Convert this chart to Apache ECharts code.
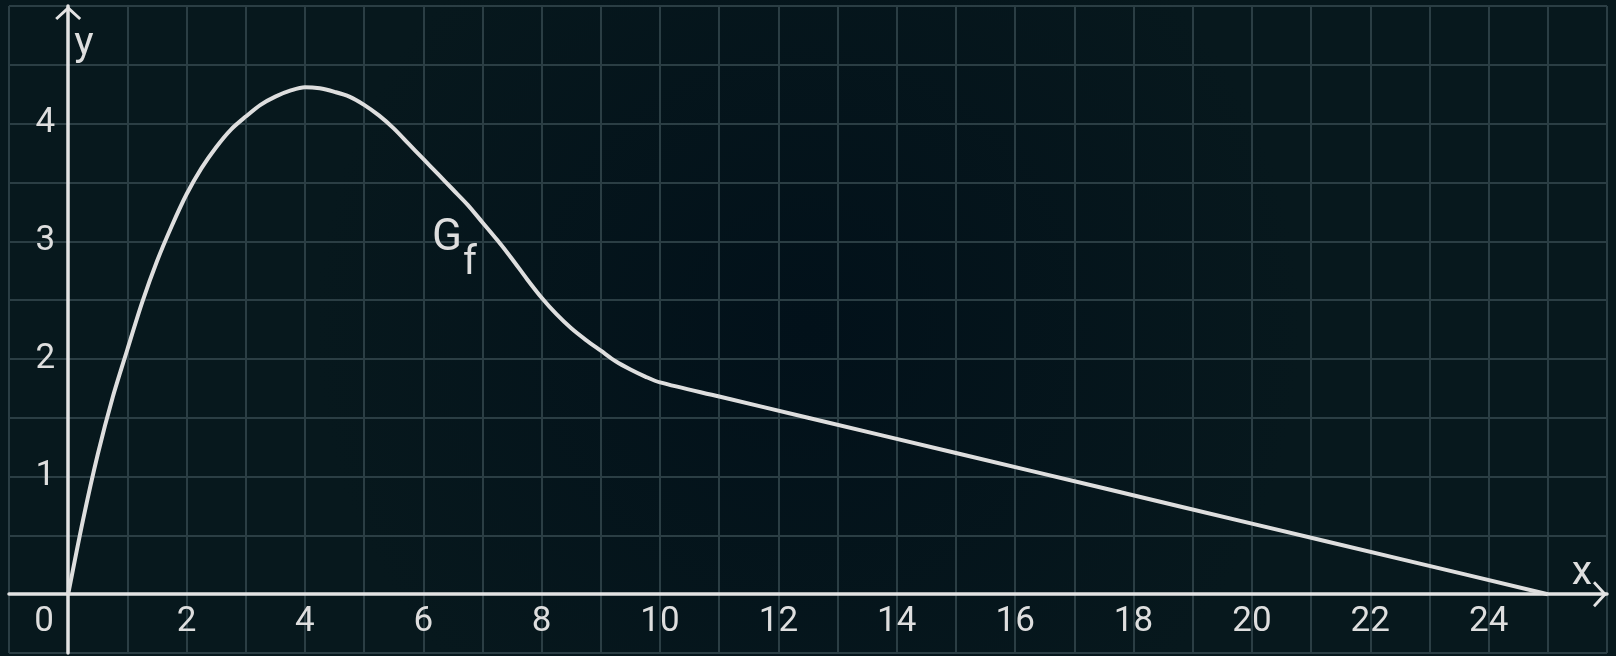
<!DOCTYPE html>
<html>
<head>
<meta charset="utf-8">
<script src="https://cdn.jsdelivr.net/npm/echarts@6/dist/echarts.min.js"></script>
<style>
html,body{margin:0;padding:0;background:#03141a;}
#chart{width:1616px;height:656px;}
</style>
</head>
<body>
<div id="chart"></div>
<script>
var xValues = [0, 0.25, 0.5, 0.75, 1, 1.25, 1.5, 1.75, 2, 2.25, 2.5, 2.75, 3, 3.25, 3.5, 3.75, 4, 4.25, 4.5, 4.75, 5, 5.25, 5.5, 5.75, 6, 6.25, 6.5, 6.75, 7, 7.25, 7.5, 7.75, 8, 8.25, 8.5, 8.75, 9, 9.25, 9.5, 9.75, 10, 11, 12.5, 15, 17.5, 20, 22.5, 25];
var yValues = [0, 0.63, 1.19, 1.67, 2.08, 2.48, 2.83, 3.13, 3.40, 3.62, 3.80, 3.95, 4.06, 4.16, 4.23, 4.28, 4.31, 4.30, 4.27, 4.23, 4.16, 4.07, 3.96, 3.83, 3.70, 3.57, 3.44, 3.31, 3.16, 3.01, 2.85, 2.68, 2.52, 2.38, 2.26, 2.16, 2.07, 1.98, 1.91, 1.85, 1.80, 1.68, 1.50, 1.20, 0.90, 0.60, 0.30, 0];
var xTickLabels = [0, 2, 4, 6, 8, 10, 12, 14, 16, 18, 20, 22, 24];
var yTickLabels = [1, 2, 3, 4];
var curveName = 'G';
var curveSub = 'f';
var labelAnchorG = [6.40, 3.02];
var labelAnchorF = [6.79, 2.81];

var X_MIN = -1, X_MAX = 26, Y_MIN = -0.5, Y_MAX = 5;
var W = 1616, H = 656, GL = 9, GR = 9, GT = 6, GB = 3;
// offsets that put each axis on the other axis' zero
var xAxisOffset = -((0 - Y_MIN) / (Y_MAX - Y_MIN)) * (H - GT - GB);
var yAxisOffset = -((0 - X_MIN) / (X_MAX - X_MIN)) * (W - GL - GR);

var axisColor = '#e3e3e3';
var gridColor = '#2b3e44';
var textColor = '#dedede';
var chevron = 'path://M0,12 L13,0 L26,12 L24,14 L13,4 L2,14 Z';

var seriesData = xValues.map(function (x, i) { return [x, yValues[i]]; });

var chart = echarts.init(document.getElementById('chart'), null, {renderer: 'canvas'});
chart.setOption({
  animation: false,
  backgroundColor: {
    type: 'radial', x: 0.5, y: 0.5, r: 0.75,
    colorStops: [{offset: 0, color: '#02111a'}, {offset: 1, color: '#07181d'}]
  },
  textStyle: {fontFamily: 'Roboto'},
  grid: {left: GL, right: GR, top: GT, bottom: GB, containLabel: false, outerBoundsMode: 'none'},
  xAxis: {
    type: 'value', min: X_MIN, max: X_MAX, interval: 1,
    position: 'bottom', offset: xAxisOffset,
    name: 'x', nameLocation: 'end', nameGap: -25,
    nameTextStyle: {color: textColor, fontSize: 41, fontFamily: 'Roboto', align: 'center', verticalAlign: 'bottom', padding: [0, 0, 0, 0]},
    axisLine: {show: true, onZero: false, symbol: ['none', chevron], symbolSize: [26, 14], symbolOffset: [0, -7],
      lineStyle: {color: axisColor, width: 3.5}},
    axisTick: {show: false},
    axisLabel: {
      show: true, fontSize: 35, color: textColor, fontFamily: 'Roboto', margin: 11,
      formatter: function (v) {
        if (v === 0) return '{o|0}';
        return xTickLabels.indexOf(v) >= 0 ? String(v) : '';
      },
      rich: {o: {fontSize: 35, color: textColor, fontFamily: 'Roboto', padding: [0, 48, 0, 0]}}
    },
    splitLine: {show: true, showMinLine: true, showMaxLine: true, lineStyle: {color: gridColor, width: 2}}
  },
  yAxis: {
    type: 'value', min: Y_MIN, max: Y_MAX, interval: 0.5,
    position: 'left', offset: yAxisOffset,
    name: 'y', nameLocation: 'end', nameGap: -39,
    nameTextStyle: {color: textColor, fontSize: 41, fontFamily: 'Roboto', align: 'left', verticalAlign: 'middle', padding: [0, 0, 0, 6]},
    axisLine: {show: true, onZero: false, symbol: ['none', chevron], symbolSize: [26, 14], symbolOffset: [0, -7],
      lineStyle: {color: axisColor, width: 3.5}},
    axisTick: {show: false},
    axisLabel: {
      show: true, fontSize: 35, color: textColor, fontFamily: 'Roboto', margin: 13, padding: [6, 0, 0, 0],
      formatter: function (v) { return yTickLabels.indexOf(v) >= 0 ? String(v) : ''; }
    },
    splitLine: {show: true, showMinLine: true, showMaxLine: true, lineStyle: {color: gridColor, width: 2}}
  },
  series: [{
    type: 'line',
    data: seriesData,
    smooth: 0.3,
    symbol: 'none',
    clip: false,
    lineStyle: {color: '#dedede', width: 4},
    markPoint: {
      symbol: 'circle', symbolSize: 0,
      silent: true,
      label: {show: true, position: 'inside', fontSize: 44, color: textColor, fontFamily: 'Roboto'},
      data: [
        {coord: labelAnchorG, value: curveName,
          label: {show: true, position: 'inside', formatter: curveName, fontSize: 44, color: textColor, fontFamily: 'Roboto'}},
        {coord: labelAnchorF, value: curveSub,
          label: {show: true, position: 'inside', formatter: curveSub, fontSize: 40, color: textColor, fontFamily: 'Roboto'}}
      ]
    }
  }]
});
</script>
</body>
</html>
